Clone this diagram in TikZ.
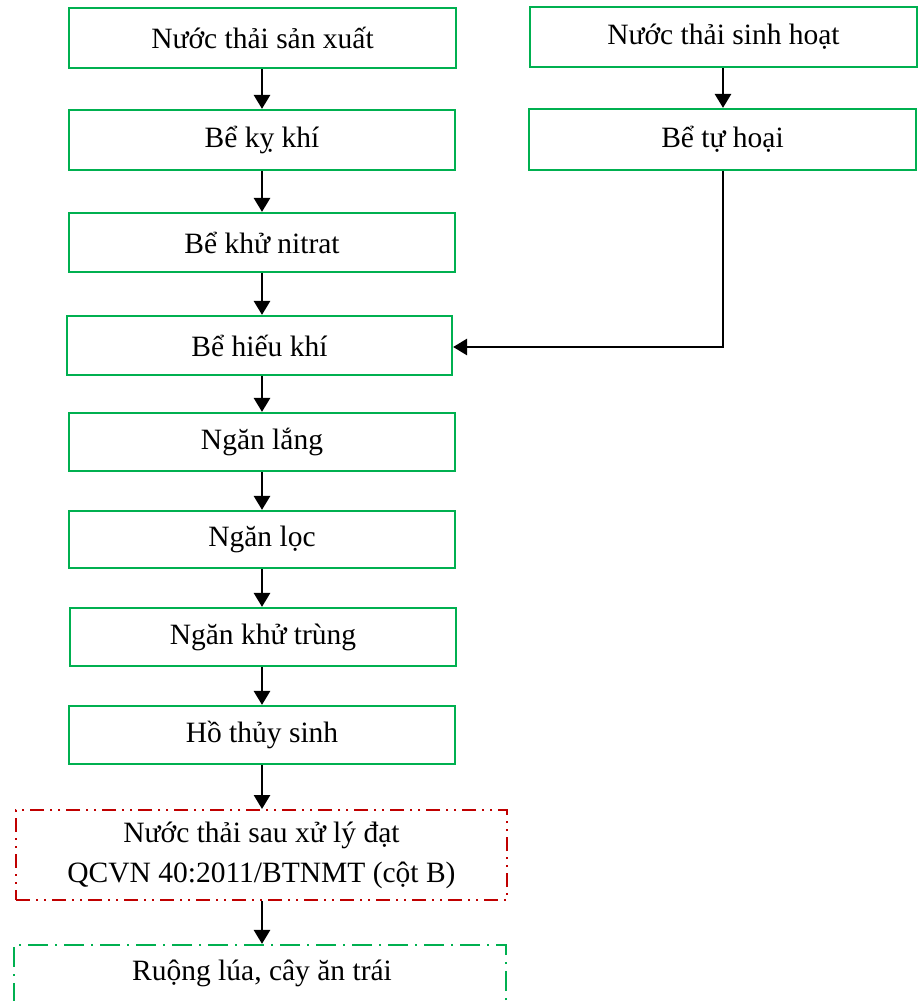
\documentclass[tikz,border=0pt]{standalone}
\usepackage{fontspec}
\setmainfont{Liberation Serif}
\usetikzlibrary{arrows.meta}
\definecolor{boxgreen}{RGB}{0,176,80}
\definecolor{boxred}{RGB}{192,0,0}
\begin{document}
\begin{tikzpicture}[x=1pt,y=-1pt,
  proc/.style={draw=boxgreen,line width=2.2pt,inner sep=0pt,minimum width=386pt,minimum height=59pt,font=\fontsize{29.5}{34}\selectfont,text=black},
  resbox/.style={draw=boxred,line width=2pt,inner sep=0pt,minimum width=491pt,minimum height=90pt,align=center,font=\fontsize{29.5}{40}\selectfont,
    dash pattern=on 14pt off 6pt on 2pt off 6pt on 2pt off 6pt},
  usebox/.style={draw=boxgreen,line width=2.2pt,inner sep=0pt,minimum width=492pt,minimum height=94pt,
    dash pattern=on 20pt off 7pt on 2pt off 7pt},
  lbl/.style={font=\fontsize{29.5}{34}\selectfont,inner sep=0pt},
  arr/.style={line width=2.8pt,-{Triangle[length=14pt,width=16pt]}}]
\useasboundingbox (0,0) rectangle (923,1001);
\clip (0,0) rectangle (923,1001);
\node[proc,minimum width=387pt,minimum height=60pt] (n1) at (262.5,38) {Nước thải sản xuất};
\node[proc,minimum height=60pt] (n2) at (262,140) {Bể kỵ khí};
\node[proc] (n3) at (262,242.5) {Bể khử nitrat};
\node[proc,minimum width=385pt] (n4) at (259.5,345.5) {Bể hiếu khí};
\node[proc,minimum height=58pt] (n5) at (262,442) {Ngăn lắng};
\node[proc,minimum height=57pt] (n6) at (262,539.5) {Ngăn lọc};
\node[proc,minimum height=58pt] (n7) at (263,637) {Ngăn khử trùng};
\node[proc,minimum height=58pt] (n8) at (262,735) {Hồ thủy sinh};
\node[resbox] (n9) at (261.5,855) {Nước thải sau xử lý đạt\\QCVN 40:2011/BTNMT (cột B)};
\node[usebox] (n10) at (260,992) {};
\node[lbl] (n10t) at (262,973) {Ruộng lúa, cây ăn trái};
\node[proc,minimum width=387pt,minimum height=60pt] (r1) at (723.5,37) {Nước thải sinh hoạt};
\node[proc,minimum width=387pt,minimum height=61pt] (r2) at (722.5,139.5) {Bể tự hoại};
\draw[arr] (n1.south -| 262,0) -- (n2.north -| 262,0);
\draw[arr] (n2.south -| 262,0) -- (n3.north -| 262,0);
\draw[arr] (n3.south -| 262,0) -- (n4.north -| 262,0);
\draw[arr] (n4.south -| 262,0) -- (n5.north -| 262,0);
\draw[arr] (n5.south -| 262,0) -- (n6.north -| 262,0);
\draw[arr] (n6.south -| 262,0) -- (n7.north -| 262,0);
\draw[arr] (n7.south -| 262,0) -- (n8.north -| 262,0);
\draw[arr] (n8.south -| 262,0) -- (n9.north -| 262,0);
\draw[arr] (n9.south -| 262,0) -- (n10.north -| 262,0);
\draw[arr] (r1.south -| 723,0) -- (r2.north -| 723,0);
\draw[arr] (r2.south -| 723,0) |- (n4.east |- 0,347);
\end{tikzpicture}
\end{document}
